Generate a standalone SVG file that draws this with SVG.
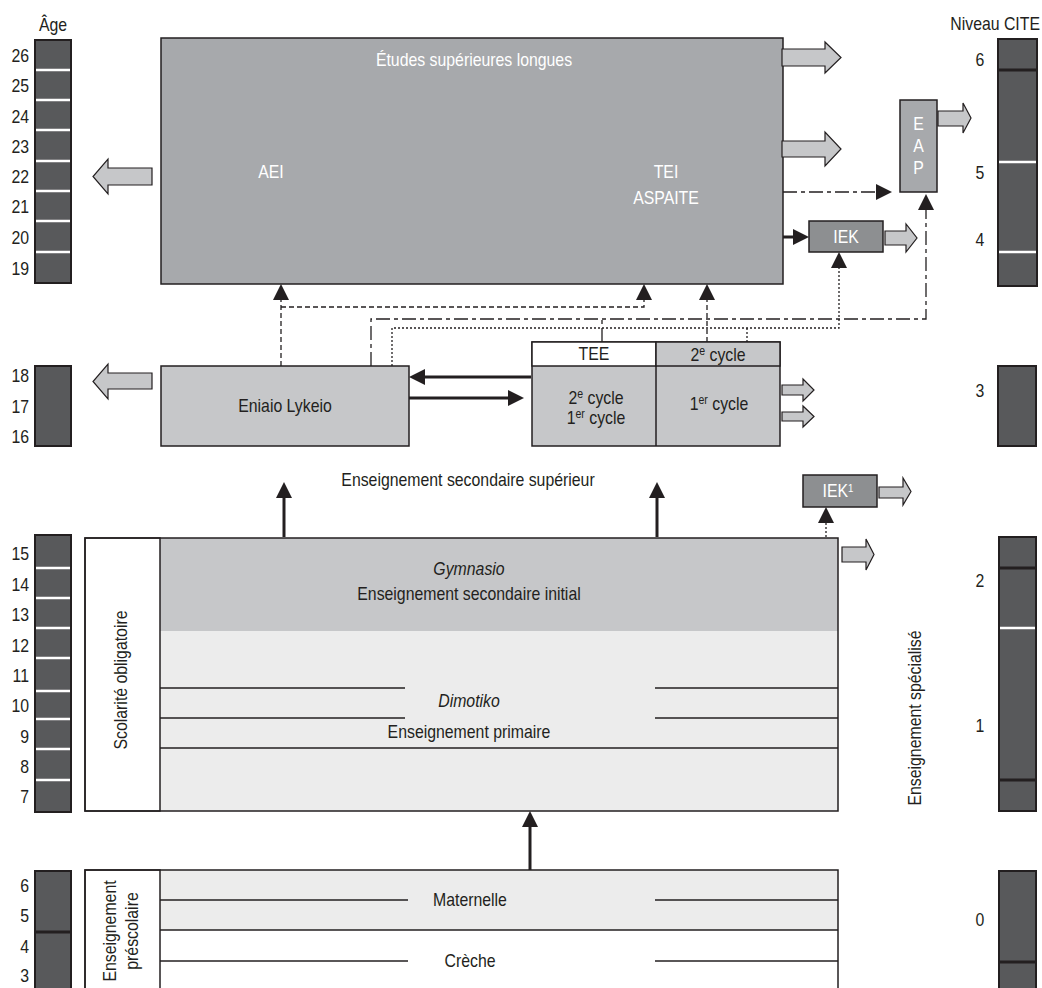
<svg xmlns="http://www.w3.org/2000/svg" width="1042" height="988" viewBox="0 0 1042 988">
<style>
text{font-family:"Liberation Sans",Arial,sans-serif;font-size:18px;fill:#231f20}
text:not(.r){transform-box:fill-box;transform-origin:center;transform:scaleX(0.88)}
text.e{transform-origin:right center}
.w{fill:#fff}
.m{text-anchor:middle}
.e{text-anchor:end}
.bar{fill:#58595b;stroke:#231f20;stroke-width:2}
.wl{stroke:#fff;stroke-width:2.5}
.dl{stroke:#231f20;stroke-width:3}
.box{stroke:#231f20;stroke-width:1.5}
.blk{fill:#c6c7c9;stroke:#231f20;stroke-width:1.2}
.thick{stroke:#231f20;stroke-width:3;fill:none;marker-end:url(#ah)}
.dash{stroke:#231f20;stroke-width:1.3;fill:none;stroke-dasharray:5 3}
.dd{stroke:#231f20;stroke-width:1.3;fill:none;stroke-dasharray:14 4 4 4}
.dot{stroke:#231f20;stroke-width:1.3;fill:none;stroke-dasharray:2 2}
.ma{marker-end:url(#ah)}
.ln{stroke:#231f20;stroke-width:1.5}
</style>
<defs>
<marker id="ah" viewBox="0 0 16 16" markerWidth="16" markerHeight="16" refX="10" refY="8" orient="auto" markerUnits="userSpaceOnUse">
<path d="M0,0 L16,8 L0,16 z" fill="#231f20"/>
</marker>
</defs>
<rect width="1042" height="988" fill="#fff"/>

<!-- Age scale -->
<g id="age-scale">
<text x="53" y="31" class="m">Âge</text>
<rect x="35" y="40" width="36" height="243" class="bar"/>
<g class="wl">
<line x1="36" y1="70" x2="70" y2="70"/><line x1="36" y1="100" x2="70" y2="100"/><line x1="36" y1="130" x2="70" y2="130"/><line x1="36" y1="161" x2="70" y2="161"/><line x1="36" y1="191" x2="70" y2="191"/><line x1="36" y1="221" x2="70" y2="221"/><line x1="36" y1="252" x2="70" y2="252"/>
</g>
<text x="29" y="62" class="e">26</text><text x="29" y="92" class="e">25</text><text x="29" y="123" class="e">24</text><text x="29" y="153" class="e">23</text><text x="29" y="183" class="e">22</text><text x="29" y="213" class="e">21</text><text x="29" y="244" class="e">20</text><text x="29" y="275" class="e">19</text>

<rect x="35" y="366" width="36" height="80" class="bar"/>
<text x="29" y="382" class="e">18</text><text x="29" y="413" class="e">17</text><text x="29" y="443" class="e">16</text>

<rect x="35" y="535" width="36" height="277" class="bar"/>
<g class="wl">
<line x1="36" y1="568" x2="70" y2="568"/><line x1="36" y1="598" x2="70" y2="598"/><line x1="36" y1="628" x2="70" y2="628"/><line x1="36" y1="658" x2="70" y2="658"/><line x1="36" y1="691" x2="70" y2="691"/><line x1="36" y1="719" x2="70" y2="719"/><line x1="36" y1="749" x2="70" y2="749"/><line x1="36" y1="780" x2="70" y2="780"/>
</g>
<text x="29" y="560" class="e">15</text><text x="29" y="591" class="e">14</text><text x="29" y="621" class="e">13</text><text x="29" y="652" class="e">12</text><text x="29" y="682" class="e">11</text><text x="29" y="712" class="e">10</text><text x="29" y="743" class="e">9</text><text x="29" y="773" class="e">8</text><text x="29" y="803" class="e">7</text>

<rect x="35" y="871" width="36" height="125" class="bar"/>
<line x1="36" y1="932" x2="70" y2="932" class="dl"/>
<text x="29" y="892" class="e">6</text><text x="29" y="922" class="e">5</text><text x="29" y="953" class="e">4</text><text x="29" y="982" class="e">3</text>
</g>

<!-- CITE scale -->
<g id="cite-scale">
<text x="1040" y="30" class="e">Niveau CITE</text>
<rect x="998" y="39" width="39" height="247" class="bar"/>
<line x1="999" y1="70" x2="1036" y2="70" class="dl"/>
<line x1="999" y1="162" x2="1036" y2="162" class="wl"/>
<line x1="999" y1="252" x2="1036" y2="252" class="wl"/>
<text x="980" y="66" class="m">6</text><text x="980" y="179" class="m">5</text><text x="980" y="246" class="m">4</text>

<rect x="998" y="366" width="38" height="80" class="bar"/>
<text x="980" y="397" class="m">3</text>

<rect x="999" y="537" width="37" height="274" class="bar"/>
<line x1="1000" y1="568" x2="1035" y2="568" class="dl"/>
<line x1="1000" y1="628" x2="1035" y2="628" class="wl"/>
<line x1="1000" y1="780" x2="1035" y2="780" class="dl"/>
<text x="980" y="587" class="m">2</text><text x="980" y="732" class="m">1</text>

<rect x="999" y="871" width="37" height="125" class="bar"/>
<line x1="1000" y1="962" x2="1035" y2="962" class="dl"/>
<text x="980" y="926" class="m">0</text>
</g>

<!-- Higher education -->
<g id="etudes-superieures">
<rect x="161" y="38" width="622" height="246" fill="#a7a9ac" class="box"/>
<text x="474" y="66" class="m w">Études supérieures longues</text>
<text x="271" y="178" class="m w">AEI</text>
<text x="666" y="178" class="m w">TEI</text>
<text x="666" y="204" class="m w">ASPAITE</text>
</g>

<g id="eap">
<rect x="900" y="100" width="37" height="92" fill="#a7a9ac" class="box"/>
<text x="918.5" y="130" class="m w">E</text>
<text x="918.5" y="152" class="m w">A</text>
<text x="918.5" y="174" class="m w">P</text>
</g>

<g id="iek">
<rect x="809" y="221" width="74" height="31" fill="#8d8f91" class="box"/>
<text x="846" y="243" class="m w">IEK</text>
</g>

<g id="eniaio-lykeio">
<rect x="161" y="366" width="248" height="80" fill="#c6c7c9" class="box"/>
<text x="285" y="412" class="m">Eniaio Lykeio</text>
</g>

<g id="tee">
<rect x="532" y="342" width="248" height="104" fill="#c6c7c9" class="box"/>
<rect x="532" y="342" width="124" height="24" fill="#fff" class="box"/>
<rect x="656" y="342" width="124" height="24" fill="#c6c7c9" class="box"/>
<line x1="656" y1="366" x2="656" y2="446" class="box"/>
<text x="594" y="360" class="m">TEE</text>
<text x="718" y="361" class="m">2<tspan font-size="12" dy="-6">e</tspan><tspan dy="6"> cycle</tspan></text>
<text x="596" y="404" class="m">2<tspan font-size="12" dy="-6">e</tspan><tspan dy="6"> cycle</tspan></text>
<text x="596" y="424" class="m">1<tspan font-size="12" dy="-6">er</tspan><tspan dy="6"> cycle</tspan></text>
<text x="719" y="410" class="m">1<tspan font-size="12" dy="-6">er</tspan><tspan dy="6"> cycle</tspan></text>
</g>

<g id="label-secondaire-sup">
<text x="468" y="486" class="m">Enseignement secondaire supérieur</text>
</g>

<g id="iek1">
<rect x="803" y="475" width="74" height="32" fill="#8d8f91" class="box"/>
<text x="838" y="497" class="m w">IEK<tspan font-size="11" dy="-5">1</tspan></text>
</g>

<g id="scolarite-obligatoire">
<rect x="85" y="538" width="753" height="273" fill="#ececec"/>
<rect x="160" y="538" width="678" height="93" fill="#c6c7c9"/>
<g class="ln">
<line x1="160" y1="688" x2="405" y2="688"/><line x1="655" y1="688" x2="838" y2="688"/>
<line x1="160" y1="718" x2="405" y2="718"/><line x1="655" y1="718" x2="838" y2="718"/>
<line x1="160" y1="748" x2="838" y2="748"/>
</g>
<rect x="85" y="538" width="75" height="273" fill="#fff" class="box"/>
<rect x="85" y="538" width="753" height="273" fill="none" class="box"/>
<text transform="translate(127,680) rotate(-90) scale(0.88,1)" class="m r">Scolarité obligatoire</text>
<text x="469" y="575" class="m" font-style="italic">Gymnasio</text>
<text x="469" y="600" class="m">Enseignement secondaire initial</text>
<text x="469" y="707" class="m" font-style="italic">Dimotiko</text>
<text x="469" y="738" class="m">Enseignement primaire</text>
</g>

<g id="prescolaire">
<rect x="85" y="870" width="753" height="130" fill="#fff"/>
<rect x="160" y="870" width="678" height="60" fill="#ececec"/>
<g class="ln">
<line x1="160" y1="900" x2="408" y2="900"/><line x1="655" y1="900" x2="838" y2="900"/>
<line x1="160" y1="930" x2="838" y2="930"/>
<line x1="160" y1="961" x2="408" y2="961"/><line x1="655" y1="961" x2="838" y2="961"/>
</g>
<rect x="85" y="870" width="75" height="130" fill="#fff" class="box"/>
<rect x="85" y="870" width="753" height="130" fill="none" class="box"/>
<text transform="translate(116,931) rotate(-90) scale(0.88,1)" class="m r">Enseignement</text>
<text transform="translate(138,931) rotate(-90) scale(0.88,1)" class="m r">préscolaire</text>
<text x="470" y="906" class="m">Maternelle</text>
<text x="470" y="967" class="m">Crèche</text>
</g>

<g id="specialise">
<text transform="translate(921,718) rotate(-90) scale(0.88,1)" class="m r">Enseignement spécialisé</text>
</g>

<!-- Connectors -->
<g id="connectors">
<g class="blk">
<polygon points="152,168 108,168 108,159 93,176.5 108,194 108,185 152,185"/>
<polygon points="152,373 108,373 108,364 93,381.5 108,399 108,389 152,389"/>
<polygon points="782,49 825,49 825,42 841,57.5 825,73 825,66 782,66"/>
<polygon points="782,141 825,141 825,132 841,149 825,166 825,157 782,157"/>
<polygon points="938,111 963,111 963,103 971,118 963,133 963,126 938,126"/>
<polygon points="885,231 906,231 906,224 917,238 906,252 906,245 885,245"/>
<polygon points="782,385 803,385 803,379 814,390 803,401 803,395 782,395"/>
<polygon points="782,412 803,412 803,406 814,416.5 803,427 803,421 782,421"/>
<polygon points="879,487 903,487 903,478 911,491.5 903,505 903,498 879,498"/>
<polygon points="842,547 866,547 866,539 874,554.5 866,570 866,562 842,562"/>
</g>
<path d="M783,237 H803" class="thick"/>
<path d="M531,377 H415" class="thick"/>
<path d="M409,398 H518" class="thick"/>
<path d="M284,537 V488" class="thick"/>
<path d="M657,537 V488" class="thick"/>
<path d="M530,870 V817" class="thick"/>

<path d="M281,366 V290" class="dash ma"/>
<path d="M281,307 H644 V290" class="dash ma"/>
<path d="M707,342 V290" class="dash ma"/>

<path d="M371,366 V319 H926 V200" class="dd ma"/>
<path d="M602,342 V319" class="dd"/>
<path d="M783,192 H886" class="dd ma"/>

<path d="M392,366 V328 H839 V258" class="dot ma"/>
<path d="M747,342 V328" class="dot"/>
<path d="M826,537 V513" class="dot ma"/>
</g>
</svg>
